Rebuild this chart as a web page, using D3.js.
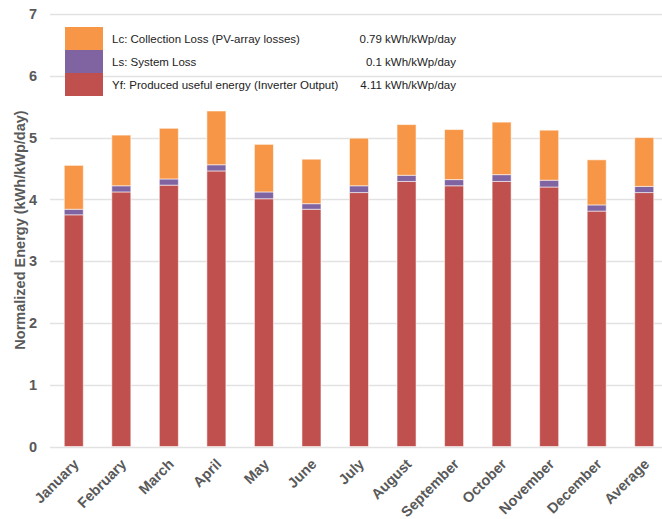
<!DOCTYPE html>
<html>
<head>
<meta charset="utf-8">
<script src="https://cdn.jsdelivr.net/npm/d3@7/dist/d3.min.js"></script>
<style>
  html, body { margin: 0; padding: 0; background: #fff; }
  svg { display: block; font-family: "Liberation Sans", Arial, Helvetica, sans-serif; }
</style>
</head>
<body>
<svg id="chart" width="662" height="519"></svg>
<script>
const categories = ["January","February","March","April","May","June","July","August","September","October","November","December","Average"];
const yfValues = [3.75, 4.12, 4.23, 4.46, 4.01, 3.84, 4.11, 4.29, 4.22, 4.29, 4.20, 3.81, 4.11];
const lsValues = [0.09, 0.10, 0.10, 0.10, 0.11, 0.09, 0.11, 0.10, 0.10, 0.11, 0.11, 0.10, 0.10];
const lcValues = [0.71, 0.82, 0.82, 0.87, 0.77, 0.72, 0.77, 0.82, 0.81, 0.85, 0.81, 0.73, 0.79];
const yTicks = [0, 1, 2, 3, 4, 5, 6, 7];
const seriesNames = ["Yf", "Ls", "Lc"];
const legendLabels = ["Lc: Collection Loss (PV-array losses)", "Ls: System Loss", "Yf: Produced useful energy (Inverter Output)"];
const legendValues = ["0.79 kWh/kWp/day", "0.1 kWh/kWp/day", "4.11 kWh/kWp/day"];
const yAxisTitle = "Normalized Energy (kWh/kWp/day)";

const colors = { Yf: "#C0504D", Ls: "#8064A2", Lc: "#F79646" };

const svg = d3.select("#chart");
const plotLeft = 50, plotRight = 662;

const y = d3.scaleLinear().domain([0, 7]).range([446.5, 14]);
const x = d3.scaleBand().domain(categories).range([50, 668]).paddingInner(0.6).paddingOuter(0.3);

// gridlines
svg.append("g").selectAll("line").data(yTicks).join("line")
  .attr("x1", plotLeft).attr("x2", plotRight)
  .attr("y1", d => Math.round(y(d)) + 0.5).attr("y2", d => Math.round(y(d)) + 0.5)
  .attr("stroke", "#e2e2e2").attr("stroke-width", 1.5);

// y tick labels
svg.append("g").selectAll("text").data(yTicks).join("text")
  .attr("x", 37).attr("y", d => y(d)).attr("dy", "0.36em")
  .attr("text-anchor", "end")
  .attr("font-size", 14.5).attr("font-weight", "bold").attr("fill", "#595959")
  .text(d => d);

// y axis title
svg.append("text")
  .attr("transform", "translate(24.5,230) rotate(-90)")
  .attr("text-anchor", "middle")
  .attr("font-size", 14.5).attr("font-weight", "bold").attr("fill", "#595959")
  .text(yAxisTitle);

// stacked data
const rows = categories.map((c, i) => ({ cat: c, Yf: yfValues[i], Ls: lsValues[i], Lc: lcValues[i] }));
const stacked = d3.stack().keys(seriesNames)(rows);

svg.append("g").selectAll("g").data(stacked).join("g")
  .attr("fill", d => colors[d.key])
  .selectAll("rect").data(d => d).join("rect")
  .attr("x", d => x(d.data.cat))
  .attr("width", x.bandwidth())
  .attr("y", d => y(d[1]))
  .attr("height", d => y(d[0]) - y(d[1]))
  .attr("stroke", "rgba(255,255,255,0.55)").attr("stroke-width", 1);

// x labels
svg.append("g").selectAll("text").data(categories).join("text")
  .attr("transform", d => `translate(${x(d) + x.bandwidth() / 2 + 6},${465}) rotate(-45)`)
  .attr("text-anchor", "end")
  .attr("font-size", 14.5).attr("font-weight", "bold").attr("fill", "#595959")
  .text(d => d);

// legend
const legendKeys = ["Lc", "Ls", "Yf"];
const lg = svg.append("g");
const swTop = 27, swH = 23;
lg.selectAll("rect").data(legendKeys).join("rect")
  .attr("x", 65).attr("width", 38)
  .attr("y", (d, i) => swTop + i * swH).attr("height", swH)
  .attr("fill", d => colors[d]);
lg.selectAll("text.lab").data(legendLabels).join("text").attr("class", "lab")
  .attr("x", 112).attr("y", (d, i) => swTop + i * swH + 15.5)
  .attr("font-size", 11.5).attr("fill", "#222")
  .text(d => d);
lg.selectAll("text.val").data(legendValues).join("text").attr("class", "val")
  .attr("x", 456).attr("y", (d, i) => swTop + i * swH + 15.5)
  .attr("text-anchor", "end")
  .attr("font-size", 11.5).attr("fill", "#222")
  .text(d => d);
</script>
</body>
</html>
